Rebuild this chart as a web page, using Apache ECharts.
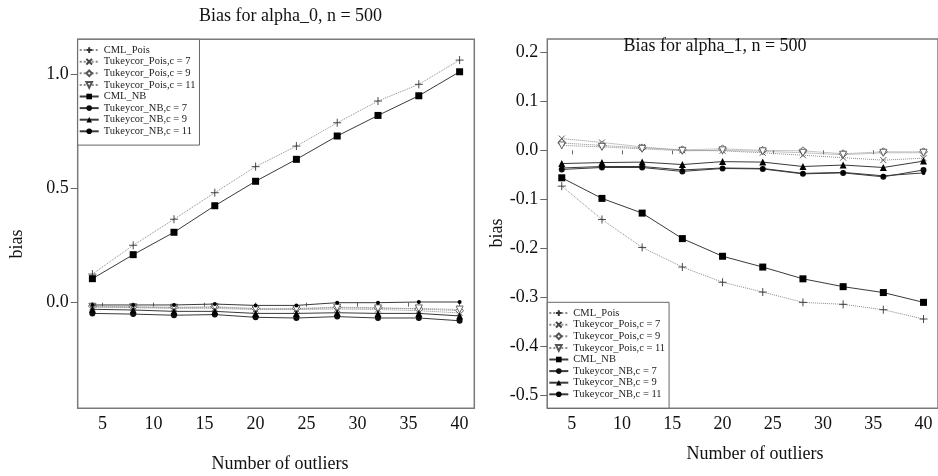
<!DOCTYPE html>
<html>
<head>
<meta charset="utf-8">
<script src="https://cdn.jsdelivr.net/npm/echarts@6/dist/echarts.min.js"></script>
<style>
html,body{margin:0;padding:0;background:#fff;}
#chart{width:938px;height:476px;}
</style>
</head>
<body>
<div id="chart"></div>
<script>
// ---- data ----
const outliers = [4, 8, 12, 16, 20, 24, 28, 32, 36, 40];
const seriesNames = ['CML_Pois', 'Tukeycor_Pois,c = 7', 'Tukeycor_Pois,c = 9', 'Tukeycor_Pois,c = 11',
  'CML_NB', 'Tukeycor_NB,c = 7', 'Tukeycor_NB,c = 9', 'Tukeycor_NB,c = 11'];

// alpha_0 panel
const a0_CML_Pois   = [0.125, 0.251, 0.365, 0.481, 0.595, 0.685, 0.787, 0.882, 0.955, 1.061];
const a0_TPois_c7   = [-0.020, -0.022, -0.025, -0.025, -0.030, -0.030, -0.028, -0.030, -0.035, -0.045];
const a0_TPois_c9   = [-0.015, -0.018, -0.020, -0.018, -0.025, -0.025, -0.020, -0.022, -0.028, -0.035];
const a0_TPois_c11  = [-0.018, -0.020, -0.022, -0.020, -0.028, -0.028, -0.022, -0.025, -0.025, -0.030];
const a0_CML_NB     = [0.105, 0.210, 0.308, 0.424, 0.531, 0.627, 0.729, 0.819, 0.905, 1.010];
const a0_TNB_c7     = [-0.047, -0.050, -0.055, -0.052, -0.064, -0.067, -0.061, -0.067, -0.067, -0.079];
const a0_TNB_c9     = [-0.029, -0.032, -0.038, -0.038, -0.047, -0.047, -0.044, -0.047, -0.047, -0.058];
const a0_TNB_c11    = [-0.010, -0.010, -0.010, -0.006, -0.012, -0.012, 0.000, 0.000, 0.003, 0.003];

// alpha_1 panel
const a1_CML_Pois   = [-0.073, -0.141, -0.198, -0.238, -0.269, -0.289, -0.310, -0.314, -0.325, -0.344];
const a1_TPois_c7   = [0.024, 0.016, 0.007, 0.000, -0.001, -0.005, -0.010, -0.015, -0.020, -0.016];
const a1_TPois_c9   = [0.015, 0.010, 0.005, 0.001, 0.003, 0.000, -0.001, -0.007, -0.003, -0.003];
const a1_TPois_c11  = [0.010, 0.007, 0.003, -0.001, 0.000, -0.002, -0.005, -0.009, -0.005, -0.005];
const a1_CML_NB     = [-0.056, -0.098, -0.128, -0.180, -0.216, -0.238, -0.262, -0.278, -0.290, -0.310];
const a1_TNB_c7     = [-0.039, -0.035, -0.035, -0.043, -0.037, -0.038, -0.048, -0.046, -0.054, -0.040];
const a1_TNB_c9     = [-0.027, -0.025, -0.024, -0.029, -0.023, -0.024, -0.033, -0.030, -0.035, -0.022];
const a1_TNB_c11    = [-0.036, -0.033, -0.033, -0.040, -0.036, -0.037, -0.047, -0.045, -0.052, -0.046];

// ticks
const xTicks = [5, 10, 15, 20, 25, 30, 35, 40];
const yTicksLeft = [0.0, 0.5, 1.0];
const yTicksRight = [0.2, 0.1, 0.0, -0.1, -0.2, -0.3, -0.4, -0.5];

const panelTitles = ['Bias for alpha_0, n = 500', 'Bias for alpha_1, n = 500'];
const xTitle = 'Number of outliers';
const yTitle = 'bias';

const panels = [
  [a0_CML_Pois, a0_TPois_c7, a0_TPois_c9, a0_TPois_c11, a0_CML_NB, a0_TNB_c7, a0_TNB_c9, a0_TNB_c11],
  [a1_CML_Pois, a1_TPois_c7, a1_TPois_c9, a1_TPois_c11, a1_CML_NB, a1_TNB_c7, a1_TNB_c9, a1_TNB_c11]
];

// ---- styles ----
const FONT = 'Liberation Serif, Times New Roman, serif';
const poisLine = {type: 'dotted', color: '#8c8c8c', width: 1};
const nbLine = {type: 'solid', color: '#3a3a3a', width: 1};
const markStyles = [
  {symbol: 'path://M5,0L5,10M0,5L10,5', size: 8, item: {color: 'none', borderColor: '#333', borderWidth: 0.9}, line: poisLine},
  {symbol: 'path://M0,0L10,10M10,0L0,10', size: 6, item: {color: 'none', borderColor: '#444', borderWidth: 0.9}, line: poisLine},
  {symbol: 'diamond', size: 8, item: {color: '#fff', borderColor: '#555', borderWidth: 0.9}, line: poisLine},
  {symbol: 'path://M0,0L10,0L5,9Z', size: 7, item: {color: '#fff', borderColor: '#555', borderWidth: 0.9}, line: poisLine},
  {symbol: 'rect', size: 7, item: {color: '#000'}, line: nbLine},
  {symbol: 'circle', size: 6, item: {color: '#0d0d14'}, line: nbLine},
  {symbol: 'triangle', size: 7, item: {color: '#000'}, line: nbLine},
  {symbol: 'circle', size: 4, item: {color: '#000'}, line: nbLine}
];

const gridsPos = [
  {left: 77.7, top: 39.3, width: 396.6, height: 369},
  {left: 547.3, top: 39, width: 397.2, height: 369.3}
];
const yRanges = [[-0.462, 1.152], [-0.526, 0.227]];
const yTickSets = [yTicksLeft, yTicksRight];

const series = [];
panels.forEach((vals, p) => {
  vals.forEach((arr, k) => {
    const st = markStyles[k];
    series.push({
      type: 'line', name: seriesNames[k], xAxisIndex: p, yAxisIndex: p,
      data: outliers.map((x, i) => [x, arr[i]]),
      symbol: st.symbol, symbolSize: st.size, showAllSymbol: true,
      itemStyle: st.item, lineStyle: st.line,
      emphasis: {disabled: true}, animation: false,
      z: k < 4 ? 2 : 3
    });
  });
});

const axisText = {fontSize: 18, fontFamily: FONT, color: '#111'};

const option = {
  backgroundColor: '#fff',
  animation: false,
  grid: gridsPos.map(g => Object.assign({show: true, borderColor: '#7a7a7a', borderWidth: 1.5, backgroundColor: 'transparent'}, g)),
  xAxis: [0, 1].map(p => ({
    type: 'value', gridIndex: p, min: 2.56, max: 41.44,
    axisLine: {show: false}, splitLine: {show: false},
    axisTick: {show: true, length: 4, customValues: xTicks, lineStyle: {color: '#666', width: 1}},
    axisLabel: Object.assign({customValues: xTicks, margin: 7}, axisText)
  })),
  yAxis: [0, 1].map(p => ({
    type: 'value', gridIndex: p, min: yRanges[p][0], max: yRanges[p][1],
    axisLine: {show: false}, splitLine: {show: false},
    axisTick: {show: true, length: 7, customValues: yTickSets[p], lineStyle: {color: '#666', width: 1}},
    axisLabel: Object.assign({customValues: yTickSets[p], margin: 9, formatter: v => Number(v).toFixed(1)}, axisText)
  })),
  legend: [
    {left: 77.7, top: 39.3},
    {left: 547.3, top: 302.3}
  ].map(pos => Object.assign({
    data: seriesNames, orient: 'vertical', selectedMode: false,
    backgroundColor: '#fff', borderColor: '#666', borderWidth: 1,
    padding: [5, 4, 8, 1], itemGap: 0, itemWidth: 19, itemHeight: 7,
    textStyle: {fontSize: 10.5, lineHeight: 11.6, fontFamily: FONT, color: '#222'}
  }, pos)),
  graphic: [
    {type: 'text', x: 290.5, y: 16, style: {text: panelTitles[0], font: '18px ' + FONT, fill: '#111', align: 'center', verticalAlign: 'middle'}},
    {type: 'text', x: 715, y: 46, style: {text: panelTitles[1], font: '18px ' + FONT, fill: '#111', align: 'center', verticalAlign: 'middle'}},
    {type: 'text', x: 280, y: 464, style: {text: xTitle, font: '18px ' + FONT, fill: '#111', align: 'center', verticalAlign: 'middle'}},
    {type: 'text', x: 755, y: 454, style: {text: xTitle, font: '18px ' + FONT, fill: '#111', align: 'center', verticalAlign: 'middle'}},
    {type: 'text', x: 17.5, y: 244, rotation: Math.PI / 2, style: {text: yTitle, font: '18px ' + FONT, fill: '#111', align: 'center', verticalAlign: 'middle'}},
    {type: 'text', x: 497.5, y: 233, rotation: Math.PI / 2, style: {text: yTitle, font: '18px ' + FONT, fill: '#111', align: 'center', verticalAlign: 'middle'}}
  ],
  series: series
};

const chart = echarts.init(document.getElementById('chart'), null, {renderer: 'canvas'});
chart.setOption(option);
</script>
</body>
</html>
